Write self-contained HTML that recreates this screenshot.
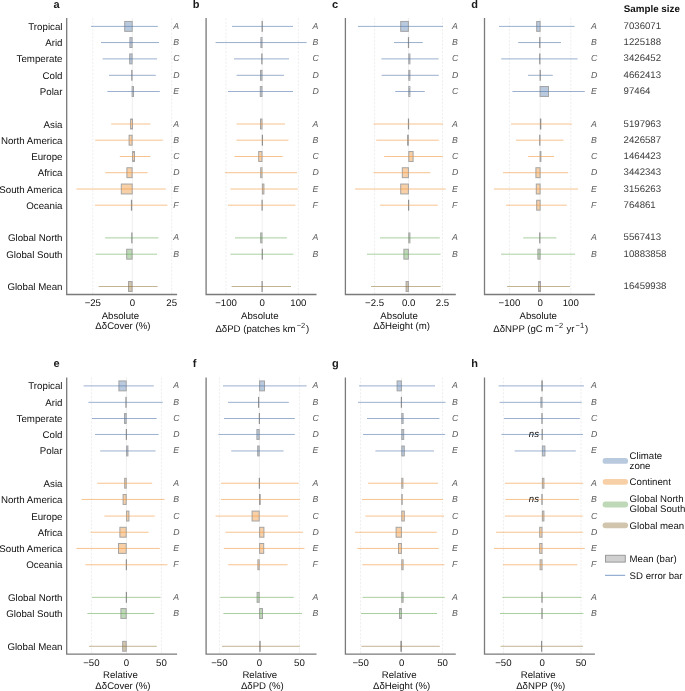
<!DOCTYPE html><html><head><meta charset="utf-8"><title>Figure</title><style>html,body{margin:0;padding:0;background:#fff;width:685px;height:691px;overflow:hidden}svg{display:block;will-change:transform}</style></head><body><svg width="685" height="691" viewBox="0 0 685 691" font-family='"Liberation Sans", sans-serif' text-rendering="geometricPrecision"><rect width="100%" height="100%" fill="#fff"/><line x1="92.8" y1="17.9" x2="92.8" y2="294.5" stroke="#efefef" stroke-width="1" stroke-dasharray="2.3,1.35"/><line x1="132.3" y1="17.9" x2="132.3" y2="294.5" stroke="#efefef" stroke-width="1"/><line x1="171.7" y1="17.9" x2="171.7" y2="294.5" stroke="#efefef" stroke-width="1" stroke-dasharray="2.3,1.35"/><rect x="124.7" y="21.45" width="7.5" height="9.9" fill="#b9c9de" stroke="#a4a4a4" stroke-width="1"/><line x1="91" y1="26.4" x2="157.8" y2="26.4" stroke="rgba(80,116,170,0.57)" stroke-width="1"/><rect x="129.9" y="37.6" width="2.2" height="9.9" fill="#b9c9de" stroke="#a4a4a4" stroke-width="1"/><line x1="101" y1="42.55" x2="159" y2="42.55" stroke="rgba(80,116,170,0.57)" stroke-width="1"/><rect x="129.7" y="53.95" width="2.4" height="9.9" fill="#b9c9de" stroke="#a4a4a4" stroke-width="1"/><line x1="102.6" y1="58.9" x2="157" y2="58.9" stroke="rgba(80,116,170,0.57)" stroke-width="1"/><rect x="131.8" y="70.35" width="0.2" height="9.9" fill="#b9c9de" stroke="#909090" stroke-width="1"/><line x1="109" y1="75.3" x2="155.8" y2="75.3" stroke="rgba(80,116,170,0.57)" stroke-width="1"/><rect x="132.1" y="86.55" width="1.4" height="9.9" fill="#b9c9de" stroke="#a4a4a4" stroke-width="1"/><line x1="107.4" y1="91.5" x2="159.8" y2="91.5" stroke="rgba(80,116,170,0.57)" stroke-width="1"/><rect x="130.6" y="119.05" width="1.9" height="9.9" fill="#f8d0a8" stroke="#a4a4a4" stroke-width="1"/><line x1="111.2" y1="124" x2="150.4" y2="124" stroke="rgba(240,148,55,0.56)" stroke-width="1"/><rect x="129.1" y="135.25" width="3" height="9.9" fill="#f8d0a8" stroke="#a4a4a4" stroke-width="1"/><line x1="95.2" y1="140.2" x2="162.8" y2="140.2" stroke="rgba(240,148,55,0.56)" stroke-width="1"/><rect x="132.6" y="151.55" width="1.9" height="9.9" fill="#f8d0a8" stroke="#a4a4a4" stroke-width="1"/><line x1="119.8" y1="156.5" x2="150.4" y2="156.5" stroke="rgba(240,148,55,0.56)" stroke-width="1"/><rect x="126.9" y="167.75" width="5.2" height="9.9" fill="#f8d0a8" stroke="#a4a4a4" stroke-width="1"/><line x1="105.2" y1="172.7" x2="147.6" y2="172.7" stroke="rgba(240,148,55,0.56)" stroke-width="1"/><rect x="121.3" y="184.05" width="10.9" height="9.9" fill="#f8d0a8" stroke="#a4a4a4" stroke-width="1"/><line x1="76.4" y1="189" x2="165.8" y2="189" stroke="rgba(240,148,55,0.56)" stroke-width="1"/><rect x="131.4" y="200.25" width="0.3" height="9.9" fill="#f8d0a8" stroke="#909090" stroke-width="1"/><line x1="95" y1="205.2" x2="167.4" y2="205.2" stroke="rgba(240,148,55,0.56)" stroke-width="1"/><rect x="131.8" y="232.95" width="0.2" height="9.9" fill="#bed8b8" stroke="#909090" stroke-width="1"/><line x1="105.2" y1="237.9" x2="158.4" y2="237.9" stroke="rgba(90,165,70,0.52)" stroke-width="1"/><rect x="126.7" y="249.25" width="5.4" height="9.9" fill="#bed8b8" stroke="#a4a4a4" stroke-width="1"/><line x1="95.6" y1="254.2" x2="157" y2="254.2" stroke="rgba(90,165,70,0.52)" stroke-width="1"/><rect x="128.5" y="281.55" width="3.6" height="9.9" fill="#d2c5ae" stroke="#a4a4a4" stroke-width="1"/><line x1="98.6" y1="286.5" x2="157.6" y2="286.5" stroke="rgba(135,105,40,0.5)" stroke-width="1"/><text transform="translate(173.2 28.9) scale(1 1)" font-size="8.75" fill="#606060" font-style="italic">A</text><text transform="translate(173.2 45.05) scale(1 1)" font-size="8.75" fill="#606060" font-style="italic">B</text><text transform="translate(173.2 61.4) scale(1 1)" font-size="8.75" fill="#606060" font-style="italic">C</text><text transform="translate(173.2 77.8) scale(1 1)" font-size="8.75" fill="#606060" font-style="italic">D</text><text transform="translate(173.2 94) scale(1 1)" font-size="8.75" fill="#606060" font-style="italic">E</text><text transform="translate(173.2 126.5) scale(1 1)" font-size="8.75" fill="#606060" font-style="italic">A</text><text transform="translate(173.2 142.7) scale(1 1)" font-size="8.75" fill="#606060" font-style="italic">B</text><text transform="translate(173.2 159) scale(1 1)" font-size="8.75" fill="#606060" font-style="italic">C</text><text transform="translate(173.2 175.2) scale(1 1)" font-size="8.75" fill="#606060" font-style="italic">D</text><text transform="translate(173.2 191.5) scale(1 1)" font-size="8.75" fill="#606060" font-style="italic">E</text><text transform="translate(173.2 207.7) scale(1 1)" font-size="8.75" fill="#606060" font-style="italic">F</text><text transform="translate(173.2 240.4) scale(1 1)" font-size="8.75" fill="#606060" font-style="italic">A</text><text transform="translate(173.2 256.7) scale(1 1)" font-size="8.75" fill="#606060" font-style="italic">B</text><path d="M66.7 17.9 V294.5 H177.1" fill="none" stroke="#7a7a7a" stroke-width="1.3"/><text transform="translate(92.8 306) scale(1 1)" font-size="9.65" text-anchor="middle" fill="#111111">−25</text><text transform="translate(132.3 306) scale(1 1)" font-size="9.65" text-anchor="middle" fill="#111111">0</text><text transform="translate(171.7 306) scale(1 1)" font-size="9.65" text-anchor="middle" fill="#111111">25</text><text transform="translate(120.4 318.7) scale(1 1)" font-size="9.65" text-anchor="middle" fill="#111111">Absolute</text><text transform="translate(122.9 329.2) scale(1 1)" font-size="9.65" text-anchor="middle" fill="#111111"><tspan>ΔδCover (%)</tspan></text><text transform="translate(53.4 7.7) scale(1 1)" font-size="11" fill="#1a1a1a" font-weight="bold">a</text><text transform="translate(62.5 29.9) scale(1 1)" font-size="9.72" text-anchor="end" fill="#111111">Tropical</text><text transform="translate(62.5 46.05) scale(1 1)" font-size="9.72" text-anchor="end" fill="#111111">Arid</text><text transform="translate(62.5 62.4) scale(1 1)" font-size="9.72" text-anchor="end" fill="#111111">Temperate</text><text transform="translate(62.5 78.8) scale(1 1)" font-size="9.72" text-anchor="end" fill="#111111">Cold</text><text transform="translate(62.5 95) scale(1 1)" font-size="9.72" text-anchor="end" fill="#111111">Polar</text><text transform="translate(62.5 127.5) scale(1 1)" font-size="9.72" text-anchor="end" fill="#111111">Asia</text><text transform="translate(62.5 143.7) scale(1 1)" font-size="9.72" text-anchor="end" fill="#111111">North America</text><text transform="translate(62.5 160) scale(1 1)" font-size="9.72" text-anchor="end" fill="#111111">Europe</text><text transform="translate(62.5 176.2) scale(1 1)" font-size="9.72" text-anchor="end" fill="#111111">Africa</text><text transform="translate(62.5 192.5) scale(1 1)" font-size="9.72" text-anchor="end" fill="#111111">South America</text><text transform="translate(62.5 208.7) scale(1 1)" font-size="9.72" text-anchor="end" fill="#111111">Oceania</text><text transform="translate(62.5 241.4) scale(1 1)" font-size="9.72" text-anchor="end" fill="#111111">Global North</text><text transform="translate(62.5 257.7) scale(1 1)" font-size="9.72" text-anchor="end" fill="#111111">Global South</text><text transform="translate(62.5 290) scale(1 1)" font-size="9.72" text-anchor="end" fill="#111111">Global Mean</text><line x1="226" y1="17.9" x2="226" y2="294.5" stroke="#efefef" stroke-width="1" stroke-dasharray="2.3,1.35"/><line x1="262.2" y1="17.9" x2="262.2" y2="294.5" stroke="#efefef" stroke-width="1"/><line x1="298.4" y1="17.9" x2="298.4" y2="294.5" stroke="#efefef" stroke-width="1" stroke-dasharray="2.3,1.35"/><rect x="262.1" y="21.45" width="0.2" height="9.9" fill="#b9c9de" stroke="#909090" stroke-width="1"/><line x1="232" y1="26.4" x2="293" y2="26.4" stroke="rgba(80,116,170,0.57)" stroke-width="1"/><rect x="260.9" y="37.6" width="1.1" height="9.9" fill="#b9c9de" stroke="#a4a4a4" stroke-width="1"/><line x1="215.6" y1="42.55" x2="306.6" y2="42.55" stroke="rgba(80,116,170,0.57)" stroke-width="1"/><rect x="261.8" y="53.95" width="0.2" height="9.9" fill="#b9c9de" stroke="#909090" stroke-width="1"/><line x1="234" y1="58.9" x2="289" y2="58.9" stroke="rgba(80,116,170,0.57)" stroke-width="1"/><rect x="260.5" y="70.35" width="1.5" height="9.9" fill="#b9c9de" stroke="#a4a4a4" stroke-width="1"/><line x1="236.6" y1="75.3" x2="284" y2="75.3" stroke="rgba(80,116,170,0.57)" stroke-width="1"/><rect x="260.3" y="86.55" width="1.7" height="9.9" fill="#b9c9de" stroke="#a4a4a4" stroke-width="1"/><line x1="228" y1="91.5" x2="293" y2="91.5" stroke="rgba(80,116,170,0.57)" stroke-width="1"/><rect x="260.5" y="119.05" width="1.5" height="9.9" fill="#f8d0a8" stroke="#a4a4a4" stroke-width="1"/><line x1="236.6" y1="124" x2="285" y2="124" stroke="rgba(240,148,55,0.56)" stroke-width="1"/><rect x="262.3" y="135.25" width="0.2" height="9.9" fill="#f8d0a8" stroke="#909090" stroke-width="1"/><line x1="236.4" y1="140.2" x2="288.4" y2="140.2" stroke="rgba(240,148,55,0.56)" stroke-width="1"/><rect x="258.7" y="151.55" width="3.3" height="9.9" fill="#f8d0a8" stroke="#a4a4a4" stroke-width="1"/><line x1="234.4" y1="156.5" x2="282.8" y2="156.5" stroke="rgba(240,148,55,0.56)" stroke-width="1"/><rect x="260.7" y="167.75" width="1.3" height="9.9" fill="#f8d0a8" stroke="#a4a4a4" stroke-width="1"/><line x1="225" y1="172.7" x2="297" y2="172.7" stroke="rgba(240,148,55,0.56)" stroke-width="1"/><rect x="262.4" y="184.05" width="1.5" height="9.9" fill="#f8d0a8" stroke="#a4a4a4" stroke-width="1"/><line x1="230.4" y1="189" x2="297.8" y2="189" stroke="rgba(240,148,55,0.56)" stroke-width="1"/><rect x="262" y="200.25" width="0.2" height="9.9" fill="#f8d0a8" stroke="#909090" stroke-width="1"/><line x1="228" y1="205.2" x2="295.4" y2="205.2" stroke="rgba(240,148,55,0.56)" stroke-width="1"/><rect x="260.7" y="232.95" width="1.3" height="9.9" fill="#bed8b8" stroke="#a4a4a4" stroke-width="1"/><line x1="235" y1="237.9" x2="286.8" y2="237.9" stroke="rgba(90,165,70,0.52)" stroke-width="1"/><rect x="262.2" y="249.25" width="0.2" height="9.9" fill="#bed8b8" stroke="#909090" stroke-width="1"/><line x1="230.4" y1="254.2" x2="293.4" y2="254.2" stroke="rgba(90,165,70,0.52)" stroke-width="1"/><rect x="262" y="281.55" width="0.2" height="9.9" fill="#d2c5ae" stroke="#909090" stroke-width="1"/><line x1="231.6" y1="286.5" x2="291" y2="286.5" stroke="rgba(135,105,40,0.5)" stroke-width="1"/><text transform="translate(312.6 28.9) scale(1 1)" font-size="8.75" fill="#606060" font-style="italic">A</text><text transform="translate(312.6 45.05) scale(1 1)" font-size="8.75" fill="#606060" font-style="italic">B</text><text transform="translate(312.6 61.4) scale(1 1)" font-size="8.75" fill="#606060" font-style="italic">C</text><text transform="translate(312.6 77.8) scale(1 1)" font-size="8.75" fill="#606060" font-style="italic">D</text><text transform="translate(312.6 94) scale(1 1)" font-size="8.75" fill="#606060" font-style="italic">D</text><text transform="translate(312.6 126.5) scale(1 1)" font-size="8.75" fill="#606060" font-style="italic">A</text><text transform="translate(312.6 142.7) scale(1 1)" font-size="8.75" fill="#606060" font-style="italic">B</text><text transform="translate(312.6 159) scale(1 1)" font-size="8.75" fill="#606060" font-style="italic">C</text><text transform="translate(312.6 175.2) scale(1 1)" font-size="8.75" fill="#606060" font-style="italic">D</text><text transform="translate(312.6 191.5) scale(1 1)" font-size="8.75" fill="#606060" font-style="italic">E</text><text transform="translate(312.6 207.7) scale(1 1)" font-size="8.75" fill="#606060" font-style="italic">F</text><text transform="translate(312.6 240.4) scale(1 1)" font-size="8.75" fill="#606060" font-style="italic">A</text><text transform="translate(312.6 256.7) scale(1 1)" font-size="8.75" fill="#606060" font-style="italic">B</text><path d="M206.1 17.9 V294.5 H316.5" fill="none" stroke="#7a7a7a" stroke-width="1.3"/><text transform="translate(226 306) scale(1 1)" font-size="9.65" text-anchor="middle" fill="#111111">−100</text><text transform="translate(262.2 306) scale(1 1)" font-size="9.65" text-anchor="middle" fill="#111111">0</text><text transform="translate(298.4 306) scale(1 1)" font-size="9.65" text-anchor="middle" fill="#111111">100</text><text transform="translate(259.8 318.7) scale(1 1)" font-size="9.65" text-anchor="middle" fill="#111111">Absolute</text><text transform="translate(262.3 331.7) scale(1 1)" font-size="9.65" text-anchor="middle" fill="#111111"><tspan>ΔδPD (patches km</tspan><tspan font-size="7.53" dx="1" dy="-3.7">−2</tspan><tspan dx="0.8" dy="3.7">)</tspan></text><text transform="translate(192.8 7.7) scale(1 1)" font-size="11" fill="#1a1a1a" font-weight="bold">b</text><line x1="374.6" y1="17.9" x2="374.6" y2="294.5" stroke="#efefef" stroke-width="1" stroke-dasharray="2.3,1.35"/><line x1="408.6" y1="17.9" x2="408.6" y2="294.5" stroke="#efefef" stroke-width="1"/><line x1="442.5" y1="17.9" x2="442.5" y2="294.5" stroke="#efefef" stroke-width="1" stroke-dasharray="2.3,1.35"/><rect x="400.7" y="21.45" width="7.7" height="9.9" fill="#b9c9de" stroke="#a4a4a4" stroke-width="1"/><line x1="358" y1="26.4" x2="443" y2="26.4" stroke="rgba(80,116,170,0.57)" stroke-width="1"/><rect x="408.4" y="37.6" width="0.2" height="9.9" fill="#b9c9de" stroke="#909090" stroke-width="1"/><line x1="394" y1="42.55" x2="422.8" y2="42.55" stroke="rgba(80,116,170,0.57)" stroke-width="1"/><rect x="408.8" y="53.95" width="1.1" height="9.9" fill="#b9c9de" stroke="#a4a4a4" stroke-width="1"/><line x1="381.4" y1="58.9" x2="438.6" y2="58.9" stroke="rgba(80,116,170,0.57)" stroke-width="1"/><rect x="408.8" y="70.35" width="1.1" height="9.9" fill="#b9c9de" stroke="#a4a4a4" stroke-width="1"/><line x1="381.6" y1="75.3" x2="438.8" y2="75.3" stroke="rgba(80,116,170,0.57)" stroke-width="1"/><rect x="408.8" y="86.55" width="1.1" height="9.9" fill="#b9c9de" stroke="#a4a4a4" stroke-width="1"/><line x1="395.2" y1="91.5" x2="424.8" y2="91.5" stroke="rgba(80,116,170,0.57)" stroke-width="1"/><rect x="408.4" y="119.05" width="0.2" height="9.9" fill="#f8d0a8" stroke="#909090" stroke-width="1"/><line x1="373.6" y1="124" x2="443" y2="124" stroke="rgba(240,148,55,0.56)" stroke-width="1"/><rect x="407.5" y="135.25" width="0.9" height="9.9" fill="#f8d0a8" stroke="#a4a4a4" stroke-width="1"/><line x1="376.2" y1="140.2" x2="438.8" y2="140.2" stroke="rgba(240,148,55,0.56)" stroke-width="1"/><rect x="408.8" y="151.55" width="4.3" height="9.9" fill="#f8d0a8" stroke="#a4a4a4" stroke-width="1"/><line x1="384.2" y1="156.5" x2="442.8" y2="156.5" stroke="rgba(240,148,55,0.56)" stroke-width="1"/><rect x="402.3" y="167.75" width="6.1" height="9.9" fill="#f8d0a8" stroke="#a4a4a4" stroke-width="1"/><line x1="373.6" y1="172.7" x2="430.4" y2="172.7" stroke="rgba(240,148,55,0.56)" stroke-width="1"/><rect x="400.7" y="184.05" width="7.7" height="9.9" fill="#f8d0a8" stroke="#a4a4a4" stroke-width="1"/><line x1="355" y1="189" x2="445.8" y2="189" stroke="rgba(240,148,55,0.56)" stroke-width="1"/><rect x="408.5" y="200.25" width="0.2" height="9.9" fill="#f8d0a8" stroke="#909090" stroke-width="1"/><line x1="380" y1="205.2" x2="437.8" y2="205.2" stroke="rgba(240,148,55,0.56)" stroke-width="1"/><rect x="408.8" y="232.95" width="1.1" height="9.9" fill="#bed8b8" stroke="#a4a4a4" stroke-width="1"/><line x1="380" y1="237.9" x2="439.8" y2="237.9" stroke="rgba(90,165,70,0.52)" stroke-width="1"/><rect x="403.9" y="249.25" width="4.5" height="9.9" fill="#bed8b8" stroke="#a4a4a4" stroke-width="1"/><line x1="367" y1="254.2" x2="440.6" y2="254.2" stroke="rgba(90,165,70,0.52)" stroke-width="1"/><rect x="406.1" y="281.55" width="2.3" height="9.9" fill="#d2c5ae" stroke="#a4a4a4" stroke-width="1"/><line x1="371" y1="286.5" x2="440.6" y2="286.5" stroke="rgba(135,105,40,0.5)" stroke-width="1"/><text transform="translate(451.9 28.9) scale(1 1)" font-size="8.75" fill="#606060" font-style="italic">A</text><text transform="translate(451.9 45.05) scale(1 1)" font-size="8.75" fill="#606060" font-style="italic">B</text><text transform="translate(451.9 61.4) scale(1 1)" font-size="8.75" fill="#606060" font-style="italic">C</text><text transform="translate(451.9 77.8) scale(1 1)" font-size="8.75" fill="#606060" font-style="italic">D</text><text transform="translate(451.9 94) scale(1 1)" font-size="8.75" fill="#606060" font-style="italic">C</text><text transform="translate(451.9 126.5) scale(1 1)" font-size="8.75" fill="#606060" font-style="italic">A</text><text transform="translate(451.9 142.7) scale(1 1)" font-size="8.75" fill="#606060" font-style="italic">B</text><text transform="translate(451.9 159) scale(1 1)" font-size="8.75" fill="#606060" font-style="italic">C</text><text transform="translate(451.9 175.2) scale(1 1)" font-size="8.75" fill="#606060" font-style="italic">D</text><text transform="translate(451.9 191.5) scale(1 1)" font-size="8.75" fill="#606060" font-style="italic">E</text><text transform="translate(451.9 207.7) scale(1 1)" font-size="8.75" fill="#606060" font-style="italic">F</text><text transform="translate(451.9 240.4) scale(1 1)" font-size="8.75" fill="#606060" font-style="italic">A</text><text transform="translate(451.9 256.7) scale(1 1)" font-size="8.75" fill="#606060" font-style="italic">B</text><path d="M345.4 17.9 V294.5 H455.8" fill="none" stroke="#7a7a7a" stroke-width="1.3"/><text transform="translate(374.6 306) scale(1 1)" font-size="9.65" text-anchor="middle" fill="#111111">−2.5</text><text transform="translate(408.6 306) scale(1 1)" font-size="9.65" text-anchor="middle" fill="#111111">0.0</text><text transform="translate(442.5 306) scale(1 1)" font-size="9.65" text-anchor="middle" fill="#111111">2.5</text><text transform="translate(399.1 318.7) scale(1 1)" font-size="9.65" text-anchor="middle" fill="#111111">Absolute</text><text transform="translate(401.6 329.2) scale(1 1)" font-size="9.65" text-anchor="middle" fill="#111111"><tspan>ΔδHeight (m)</tspan></text><text transform="translate(332.1 7.7) scale(1 1)" font-size="11" fill="#1a1a1a" font-weight="bold">c</text><line x1="509.4" y1="17.9" x2="509.4" y2="294.5" stroke="#efefef" stroke-width="1" stroke-dasharray="2.3,1.35"/><line x1="540.1" y1="17.9" x2="540.1" y2="294.5" stroke="#efefef" stroke-width="1"/><line x1="570.8" y1="17.9" x2="570.8" y2="294.5" stroke="#efefef" stroke-width="1" stroke-dasharray="2.3,1.35"/><rect x="536.7" y="21.45" width="3.4" height="9.9" fill="#b9c9de" stroke="#a4a4a4" stroke-width="1"/><line x1="499" y1="26.4" x2="574.6" y2="26.4" stroke="rgba(80,116,170,0.57)" stroke-width="1"/><rect x="539.7" y="37.6" width="0.2" height="9.9" fill="#b9c9de" stroke="#909090" stroke-width="1"/><line x1="518.2" y1="42.55" x2="561" y2="42.55" stroke="rgba(80,116,170,0.57)" stroke-width="1"/><rect x="539.7" y="53.95" width="0.2" height="9.9" fill="#b9c9de" stroke="#909090" stroke-width="1"/><line x1="501.2" y1="58.9" x2="577.6" y2="58.9" stroke="rgba(80,116,170,0.57)" stroke-width="1"/><rect x="540.1" y="70.35" width="0.2" height="9.9" fill="#b9c9de" stroke="#909090" stroke-width="1"/><line x1="528" y1="75.3" x2="552.8" y2="75.3" stroke="rgba(80,116,170,0.57)" stroke-width="1"/><rect x="540.1" y="86.55" width="8.4" height="9.9" fill="#b9c9de" stroke="#a4a4a4" stroke-width="1"/><line x1="512.4" y1="91.5" x2="584.8" y2="91.5" stroke="rgba(80,116,170,0.57)" stroke-width="1"/><rect x="540.4" y="119.05" width="0.4" height="9.9" fill="#f8d0a8" stroke="#909090" stroke-width="1"/><line x1="511" y1="124" x2="571.8" y2="124" stroke="rgba(240,148,55,0.56)" stroke-width="1"/><rect x="539.7" y="135.25" width="0.2" height="9.9" fill="#f8d0a8" stroke="#909090" stroke-width="1"/><line x1="516" y1="140.2" x2="563.6" y2="140.2" stroke="rgba(240,148,55,0.56)" stroke-width="1"/><rect x="540.1" y="151.55" width="0.8" height="9.9" fill="#f8d0a8" stroke="#a4a4a4" stroke-width="1"/><line x1="528.2" y1="156.5" x2="554" y2="156.5" stroke="rgba(240,148,55,0.56)" stroke-width="1"/><rect x="535.9" y="167.75" width="4.2" height="9.9" fill="#f8d0a8" stroke="#a4a4a4" stroke-width="1"/><line x1="503" y1="172.7" x2="568.2" y2="172.7" stroke="rgba(240,148,55,0.56)" stroke-width="1"/><rect x="536.3" y="184.05" width="3.8" height="9.9" fill="#f8d0a8" stroke="#a4a4a4" stroke-width="1"/><line x1="494" y1="189" x2="578" y2="189" stroke="rgba(240,148,55,0.56)" stroke-width="1"/><rect x="536.7" y="200.25" width="3.4" height="9.9" fill="#f8d0a8" stroke="#a4a4a4" stroke-width="1"/><line x1="506" y1="205.2" x2="566.8" y2="205.2" stroke="rgba(240,148,55,0.56)" stroke-width="1"/><rect x="539.7" y="232.95" width="0.2" height="9.9" fill="#bed8b8" stroke="#909090" stroke-width="1"/><line x1="523.2" y1="237.9" x2="556.4" y2="237.9" stroke="rgba(90,165,70,0.52)" stroke-width="1"/><rect x="537.9" y="249.25" width="2.2" height="9.9" fill="#bed8b8" stroke="#a4a4a4" stroke-width="1"/><line x1="501" y1="254.2" x2="575" y2="254.2" stroke="rgba(90,165,70,0.52)" stroke-width="1"/><rect x="538.5" y="281.55" width="2" height="9.9" fill="#d2c5ae" stroke="#a4a4a4" stroke-width="1"/><line x1="507" y1="286.5" x2="570" y2="286.5" stroke="rgba(135,105,40,0.5)" stroke-width="1"/><text transform="translate(591 28.9) scale(1 1)" font-size="8.75" fill="#606060" font-style="italic">A</text><text transform="translate(591 45.05) scale(1 1)" font-size="8.75" fill="#606060" font-style="italic">B</text><text transform="translate(591 61.4) scale(1 1)" font-size="8.75" fill="#606060" font-style="italic">C</text><text transform="translate(591 77.8) scale(1 1)" font-size="8.75" fill="#606060" font-style="italic">D</text><text transform="translate(591 94) scale(1 1)" font-size="8.75" fill="#606060" font-style="italic">E</text><text transform="translate(591 126.5) scale(1 1)" font-size="8.75" fill="#606060" font-style="italic">A</text><text transform="translate(591 142.7) scale(1 1)" font-size="8.75" fill="#606060" font-style="italic">B</text><text transform="translate(591 159) scale(1 1)" font-size="8.75" fill="#606060" font-style="italic">C</text><text transform="translate(591 175.2) scale(1 1)" font-size="8.75" fill="#606060" font-style="italic">D</text><text transform="translate(591 191.5) scale(1 1)" font-size="8.75" fill="#606060" font-style="italic">E</text><text transform="translate(591 207.7) scale(1 1)" font-size="8.75" fill="#606060" font-style="italic">F</text><text transform="translate(591 240.4) scale(1 1)" font-size="8.75" fill="#606060" font-style="italic">A</text><text transform="translate(591 256.7) scale(1 1)" font-size="8.75" fill="#606060" font-style="italic">B</text><path d="M484.5 17.9 V294.5 H594.9" fill="none" stroke="#7a7a7a" stroke-width="1.3"/><text transform="translate(509.4 306) scale(1 1)" font-size="9.65" text-anchor="middle" fill="#111111">−100</text><text transform="translate(540.1 306) scale(1 1)" font-size="9.65" text-anchor="middle" fill="#111111">0</text><text transform="translate(570.8 306) scale(1 1)" font-size="9.65" text-anchor="middle" fill="#111111">100</text><text transform="translate(538.2 318.7) scale(1 1)" font-size="9.65" text-anchor="middle" fill="#111111">Absolute</text><text transform="translate(540.7 331.7) scale(1 1)" font-size="9.65" text-anchor="middle" fill="#111111"><tspan>ΔδNPP (gC m</tspan><tspan font-size="7.53" dx="1" dy="-3.7">−2</tspan><tspan dx="0.8" dy="3.7"> yr</tspan><tspan font-size="7.53" dx="1" dy="-3.7">−1</tspan><tspan dx="0.8" dy="3.7">)</tspan></text><text transform="translate(471.2 7.7) scale(1 1)" font-size="11" fill="#1a1a1a" font-weight="bold">d</text><line x1="91.4" y1="377.45" x2="91.4" y2="654.05" stroke="#efefef" stroke-width="1" stroke-dasharray="2.3,1.35"/><line x1="126.4" y1="377.45" x2="126.4" y2="654.05" stroke="#efefef" stroke-width="1"/><line x1="161.4" y1="377.45" x2="161.4" y2="654.05" stroke="#efefef" stroke-width="1" stroke-dasharray="2.3,1.35"/><rect x="118.9" y="380.95" width="7.3" height="9.9" fill="#b9c9de" stroke="#a4a4a4" stroke-width="1"/><line x1="83.6" y1="385.9" x2="153.8" y2="385.9" stroke="rgba(80,116,170,0.57)" stroke-width="1"/><rect x="125.9" y="397.38" width="0.2" height="9.9" fill="#b9c9de" stroke="#909090" stroke-width="1"/><line x1="88.4" y1="402.33" x2="162.8" y2="402.33" stroke="rgba(80,116,170,0.57)" stroke-width="1"/><rect x="124.5" y="413.55" width="1.7" height="9.9" fill="#b9c9de" stroke="#a4a4a4" stroke-width="1"/><line x1="92" y1="418.5" x2="156.6" y2="418.5" stroke="rgba(80,116,170,0.57)" stroke-width="1"/><rect x="126.3" y="429.51" width="0.2" height="9.9" fill="#b9c9de" stroke="#909090" stroke-width="1"/><line x1="95" y1="434.46" x2="158.6" y2="434.46" stroke="rgba(80,116,170,0.57)" stroke-width="1"/><rect x="126.6" y="446.01" width="1.3" height="9.9" fill="#b9c9de" stroke="#a4a4a4" stroke-width="1"/><line x1="100.2" y1="450.96" x2="155.6" y2="450.96" stroke="rgba(80,116,170,0.57)" stroke-width="1"/><rect x="124.7" y="478.31" width="1.5" height="9.9" fill="#f8d0a8" stroke="#a4a4a4" stroke-width="1"/><line x1="97.2" y1="483.26" x2="152.2" y2="483.26" stroke="rgba(240,148,55,0.56)" stroke-width="1"/><rect x="123.1" y="494.5" width="3.1" height="9.9" fill="#f8d0a8" stroke="#a4a4a4" stroke-width="1"/><line x1="81.6" y1="499.45" x2="164.6" y2="499.45" stroke="rgba(240,148,55,0.56)" stroke-width="1"/><rect x="126.6" y="511.1" width="2.3" height="9.9" fill="#f8d0a8" stroke="#a4a4a4" stroke-width="1"/><line x1="104.4" y1="516.05" x2="154.8" y2="516.05" stroke="rgba(240,148,55,0.56)" stroke-width="1"/><rect x="119.9" y="527.29" width="6.3" height="9.9" fill="#f8d0a8" stroke="#a4a4a4" stroke-width="1"/><line x1="90.6" y1="532.24" x2="148.6" y2="532.24" stroke="rgba(240,148,55,0.56)" stroke-width="1"/><rect x="118.5" y="543.48" width="7.7" height="9.9" fill="#f8d0a8" stroke="#a4a4a4" stroke-width="1"/><line x1="76.4" y1="548.43" x2="159.8" y2="548.43" stroke="rgba(240,148,55,0.56)" stroke-width="1"/><rect x="126.3" y="559.81" width="0.2" height="9.9" fill="#f8d0a8" stroke="#909090" stroke-width="1"/><line x1="85.4" y1="564.76" x2="167.4" y2="564.76" stroke="rgba(240,148,55,0.56)" stroke-width="1"/><rect x="126.3" y="592.4" width="0.2" height="9.9" fill="#bed8b8" stroke="#909090" stroke-width="1"/><line x1="92" y1="597.35" x2="160.6" y2="597.35" stroke="rgba(90,165,70,0.52)" stroke-width="1"/><rect x="120.9" y="608.55" width="5.3" height="9.9" fill="#bed8b8" stroke="#a4a4a4" stroke-width="1"/><line x1="87.4" y1="613.5" x2="154.2" y2="613.5" stroke="rgba(90,165,70,0.52)" stroke-width="1"/><rect x="122.7" y="641.35" width="3.5" height="9.9" fill="#d2c5ae" stroke="#a4a4a4" stroke-width="1"/><line x1="89" y1="646.3" x2="156.8" y2="646.3" stroke="rgba(135,105,40,0.5)" stroke-width="1"/><text transform="translate(173.2 388.4) scale(1 1)" font-size="8.75" fill="#606060" font-style="italic">A</text><text transform="translate(173.2 404.83) scale(1 1)" font-size="8.75" fill="#606060" font-style="italic">B</text><text transform="translate(173.2 421) scale(1 1)" font-size="8.75" fill="#606060" font-style="italic">C</text><text transform="translate(173.2 436.96) scale(1 1)" font-size="8.75" fill="#606060" font-style="italic">D</text><text transform="translate(173.2 453.46) scale(1 1)" font-size="8.75" fill="#606060" font-style="italic">E</text><text transform="translate(173.2 485.76) scale(1 1)" font-size="8.75" fill="#606060" font-style="italic">A</text><text transform="translate(173.2 501.95) scale(1 1)" font-size="8.75" fill="#606060" font-style="italic">B</text><text transform="translate(173.2 518.55) scale(1 1)" font-size="8.75" fill="#606060" font-style="italic">C</text><text transform="translate(173.2 534.74) scale(1 1)" font-size="8.75" fill="#606060" font-style="italic">D</text><text transform="translate(173.2 550.93) scale(1 1)" font-size="8.75" fill="#606060" font-style="italic">E</text><text transform="translate(173.2 567.26) scale(1 1)" font-size="8.75" fill="#606060" font-style="italic">F</text><text transform="translate(173.2 599.85) scale(1 1)" font-size="8.75" fill="#606060" font-style="italic">A</text><text transform="translate(173.2 616) scale(1 1)" font-size="8.75" fill="#606060" font-style="italic">B</text><path d="M66.7 377.45 V654.05 H177.1" fill="none" stroke="#7a7a7a" stroke-width="1.3"/><text transform="translate(91.4 665.55) scale(1 1)" font-size="9.65" text-anchor="middle" fill="#111111">−50</text><text transform="translate(126.4 665.55) scale(1 1)" font-size="9.65" text-anchor="middle" fill="#111111">0</text><text transform="translate(161.4 665.55) scale(1 1)" font-size="9.65" text-anchor="middle" fill="#111111">50</text><text transform="translate(120.4 678.25) scale(1 1)" font-size="9.65" text-anchor="middle" fill="#111111">Relative</text><text transform="translate(122.9 688.75) scale(1 1)" font-size="9.65" text-anchor="middle" fill="#111111"><tspan>ΔδCover (%)</tspan></text><text transform="translate(53.4 367.25) scale(1 1)" font-size="11" fill="#1a1a1a" font-weight="bold">e</text><text transform="translate(62.5 389.4) scale(1 1)" font-size="9.72" text-anchor="end" fill="#111111">Tropical</text><text transform="translate(62.5 405.83) scale(1 1)" font-size="9.72" text-anchor="end" fill="#111111">Arid</text><text transform="translate(62.5 422) scale(1 1)" font-size="9.72" text-anchor="end" fill="#111111">Temperate</text><text transform="translate(62.5 437.96) scale(1 1)" font-size="9.72" text-anchor="end" fill="#111111">Cold</text><text transform="translate(62.5 454.46) scale(1 1)" font-size="9.72" text-anchor="end" fill="#111111">Polar</text><text transform="translate(62.5 486.76) scale(1 1)" font-size="9.72" text-anchor="end" fill="#111111">Asia</text><text transform="translate(62.5 502.95) scale(1 1)" font-size="9.72" text-anchor="end" fill="#111111">North America</text><text transform="translate(62.5 519.55) scale(1 1)" font-size="9.72" text-anchor="end" fill="#111111">Europe</text><text transform="translate(62.5 535.74) scale(1 1)" font-size="9.72" text-anchor="end" fill="#111111">Africa</text><text transform="translate(62.5 551.93) scale(1 1)" font-size="9.72" text-anchor="end" fill="#111111">South America</text><text transform="translate(62.5 568.26) scale(1 1)" font-size="9.72" text-anchor="end" fill="#111111">Oceania</text><text transform="translate(62.5 600.85) scale(1 1)" font-size="9.72" text-anchor="end" fill="#111111">Global North</text><text transform="translate(62.5 617) scale(1 1)" font-size="9.72" text-anchor="end" fill="#111111">Global South</text><text transform="translate(62.5 649.8) scale(1 1)" font-size="9.72" text-anchor="end" fill="#111111">Global Mean</text><line x1="219.4" y1="377.45" x2="219.4" y2="654.05" stroke="#efefef" stroke-width="1" stroke-dasharray="2.3,1.35"/><line x1="259.4" y1="377.45" x2="259.4" y2="654.05" stroke="#efefef" stroke-width="1"/><line x1="299.4" y1="377.45" x2="299.4" y2="654.05" stroke="#efefef" stroke-width="1" stroke-dasharray="2.3,1.35"/><rect x="259.6" y="380.95" width="4.9" height="9.9" fill="#b9c9de" stroke="#a4a4a4" stroke-width="1"/><line x1="223" y1="385.9" x2="306.6" y2="385.9" stroke="rgba(80,116,170,0.57)" stroke-width="1"/><rect x="258.5" y="397.38" width="0.2" height="9.9" fill="#b9c9de" stroke="#909090" stroke-width="1"/><line x1="228" y1="402.33" x2="288.8" y2="402.33" stroke="rgba(80,116,170,0.57)" stroke-width="1"/><rect x="259.3" y="413.55" width="0.2" height="9.9" fill="#b9c9de" stroke="#909090" stroke-width="1"/><line x1="224" y1="418.5" x2="294.8" y2="418.5" stroke="rgba(80,116,170,0.57)" stroke-width="1"/><rect x="256.9" y="429.51" width="2.3" height="9.9" fill="#b9c9de" stroke="#a4a4a4" stroke-width="1"/><line x1="218.4" y1="434.46" x2="294.8" y2="434.46" stroke="rgba(80,116,170,0.57)" stroke-width="1"/><rect x="257.7" y="446.01" width="1.5" height="9.9" fill="#b9c9de" stroke="#a4a4a4" stroke-width="1"/><line x1="231.2" y1="450.96" x2="283.6" y2="450.96" stroke="rgba(80,116,170,0.57)" stroke-width="1"/><rect x="259.3" y="478.31" width="0.2" height="9.9" fill="#f8d0a8" stroke="#909090" stroke-width="1"/><line x1="221" y1="483.26" x2="298.6" y2="483.26" stroke="rgba(240,148,55,0.56)" stroke-width="1"/><rect x="259.6" y="494.5" width="0.5" height="9.9" fill="#f8d0a8" stroke="#909090" stroke-width="1"/><line x1="221" y1="499.45" x2="299.8" y2="499.45" stroke="rgba(240,148,55,0.56)" stroke-width="1"/><rect x="252.1" y="511.1" width="7.1" height="9.9" fill="#f8d0a8" stroke="#a4a4a4" stroke-width="1"/><line x1="215.6" y1="516.05" x2="288.2" y2="516.05" stroke="rgba(240,148,55,0.56)" stroke-width="1"/><rect x="259.6" y="527.29" width="4.3" height="9.9" fill="#f8d0a8" stroke="#a4a4a4" stroke-width="1"/><line x1="225.4" y1="532.24" x2="303" y2="532.24" stroke="rgba(240,148,55,0.56)" stroke-width="1"/><rect x="259.6" y="543.48" width="4.1" height="9.9" fill="#f8d0a8" stroke="#a4a4a4" stroke-width="1"/><line x1="223.8" y1="548.43" x2="304.4" y2="548.43" stroke="rgba(240,148,55,0.56)" stroke-width="1"/><rect x="257.9" y="559.81" width="1.3" height="9.9" fill="#f8d0a8" stroke="#a4a4a4" stroke-width="1"/><line x1="228.2" y1="564.76" x2="287.6" y2="564.76" stroke="rgba(240,148,55,0.56)" stroke-width="1"/><rect x="257.1" y="592.4" width="2.1" height="9.9" fill="#bed8b8" stroke="#a4a4a4" stroke-width="1"/><line x1="220.2" y1="597.35" x2="293.8" y2="597.35" stroke="rgba(90,165,70,0.52)" stroke-width="1"/><rect x="259.6" y="608.55" width="2.9" height="9.9" fill="#bed8b8" stroke="#a4a4a4" stroke-width="1"/><line x1="223.4" y1="613.5" x2="302" y2="613.5" stroke="rgba(90,165,70,0.52)" stroke-width="1"/><rect x="259.6" y="641.35" width="0.7" height="9.9" fill="#d2c5ae" stroke="#a4a4a4" stroke-width="1"/><line x1="222" y1="646.3" x2="299.8" y2="646.3" stroke="rgba(135,105,40,0.5)" stroke-width="1"/><text transform="translate(312.6 388.4) scale(1 1)" font-size="8.75" fill="#606060" font-style="italic">A</text><text transform="translate(312.6 404.83) scale(1 1)" font-size="8.75" fill="#606060" font-style="italic">B</text><text transform="translate(312.6 421) scale(1 1)" font-size="8.75" fill="#606060" font-style="italic">C</text><text transform="translate(312.6 436.96) scale(1 1)" font-size="8.75" fill="#606060" font-style="italic">D</text><text transform="translate(312.6 453.46) scale(1 1)" font-size="8.75" fill="#606060" font-style="italic">E</text><text transform="translate(312.6 485.76) scale(1 1)" font-size="8.75" fill="#606060" font-style="italic">A</text><text transform="translate(312.6 501.95) scale(1 1)" font-size="8.75" fill="#606060" font-style="italic">B</text><text transform="translate(312.6 518.55) scale(1 1)" font-size="8.75" fill="#606060" font-style="italic">C</text><text transform="translate(312.6 534.74) scale(1 1)" font-size="8.75" fill="#606060" font-style="italic">D</text><text transform="translate(312.6 550.93) scale(1 1)" font-size="8.75" fill="#606060" font-style="italic">E</text><text transform="translate(312.6 567.26) scale(1 1)" font-size="8.75" fill="#606060" font-style="italic">F</text><text transform="translate(312.6 599.85) scale(1 1)" font-size="8.75" fill="#606060" font-style="italic">A</text><text transform="translate(312.6 616) scale(1 1)" font-size="8.75" fill="#606060" font-style="italic">B</text><path d="M206.1 377.45 V654.05 H316.5" fill="none" stroke="#7a7a7a" stroke-width="1.3"/><text transform="translate(219.4 665.55) scale(1 1)" font-size="9.65" text-anchor="middle" fill="#111111">−50</text><text transform="translate(259.4 665.55) scale(1 1)" font-size="9.65" text-anchor="middle" fill="#111111">0</text><text transform="translate(299.4 665.55) scale(1 1)" font-size="9.65" text-anchor="middle" fill="#111111">50</text><text transform="translate(259.8 678.25) scale(1 1)" font-size="9.65" text-anchor="middle" fill="#111111">Relative</text><text transform="translate(262.3 688.75) scale(1 1)" font-size="9.65" text-anchor="middle" fill="#111111"><tspan>ΔδPD (%)</tspan></text><text transform="translate(192.8 367.25) scale(1 1)" font-size="11" fill="#1a1a1a" font-weight="bold">f</text><line x1="360.6" y1="377.45" x2="360.6" y2="654.05" stroke="#efefef" stroke-width="1" stroke-dasharray="2.3,1.35"/><line x1="401.6" y1="377.45" x2="401.6" y2="654.05" stroke="#efefef" stroke-width="1"/><line x1="442.6" y1="377.45" x2="442.6" y2="654.05" stroke="#efefef" stroke-width="1" stroke-dasharray="2.3,1.35"/><rect x="397.1" y="380.95" width="4.3" height="9.9" fill="#b9c9de" stroke="#a4a4a4" stroke-width="1"/><line x1="359" y1="385.9" x2="435" y2="385.9" stroke="rgba(80,116,170,0.57)" stroke-width="1"/><rect x="401.3" y="397.38" width="0.2" height="9.9" fill="#b9c9de" stroke="#909090" stroke-width="1"/><line x1="358" y1="402.33" x2="445.6" y2="402.33" stroke="rgba(80,116,170,0.57)" stroke-width="1"/><rect x="401.8" y="413.55" width="1.3" height="9.9" fill="#b9c9de" stroke="#a4a4a4" stroke-width="1"/><line x1="367" y1="418.5" x2="439.4" y2="418.5" stroke="rgba(80,116,170,0.57)" stroke-width="1"/><rect x="401.8" y="429.51" width="1.9" height="9.9" fill="#b9c9de" stroke="#a4a4a4" stroke-width="1"/><line x1="363" y1="434.46" x2="445.2" y2="434.46" stroke="rgba(80,116,170,0.57)" stroke-width="1"/><rect x="401.8" y="446.01" width="2.5" height="9.9" fill="#b9c9de" stroke="#a4a4a4" stroke-width="1"/><line x1="375.4" y1="450.96" x2="434" y2="450.96" stroke="rgba(80,116,170,0.57)" stroke-width="1"/><rect x="401.8" y="478.31" width="1.1" height="9.9" fill="#f8d0a8" stroke="#a4a4a4" stroke-width="1"/><line x1="368" y1="483.26" x2="438" y2="483.26" stroke="rgba(240,148,55,0.56)" stroke-width="1"/><rect x="401.9" y="494.5" width="0.2" height="9.9" fill="#f8d0a8" stroke="#909090" stroke-width="1"/><line x1="362" y1="499.45" x2="443" y2="499.45" stroke="rgba(240,148,55,0.56)" stroke-width="1"/><rect x="401.8" y="511.1" width="2.5" height="9.9" fill="#f8d0a8" stroke="#a4a4a4" stroke-width="1"/><line x1="365.4" y1="516.05" x2="444" y2="516.05" stroke="rgba(240,148,55,0.56)" stroke-width="1"/><rect x="396.1" y="527.29" width="5.3" height="9.9" fill="#f8d0a8" stroke="#a4a4a4" stroke-width="1"/><line x1="355" y1="532.24" x2="436.8" y2="532.24" stroke="rgba(240,148,55,0.56)" stroke-width="1"/><rect x="398.5" y="543.48" width="2.9" height="9.9" fill="#f8d0a8" stroke="#a4a4a4" stroke-width="1"/><line x1="357.2" y1="548.43" x2="438.8" y2="548.43" stroke="rgba(240,148,55,0.56)" stroke-width="1"/><rect x="401.8" y="559.81" width="1.3" height="9.9" fill="#f8d0a8" stroke="#a4a4a4" stroke-width="1"/><line x1="362.4" y1="564.76" x2="444.4" y2="564.76" stroke="rgba(240,148,55,0.56)" stroke-width="1"/><rect x="401.8" y="592.4" width="1.3" height="9.9" fill="#bed8b8" stroke="#a4a4a4" stroke-width="1"/><line x1="362.6" y1="597.35" x2="444.8" y2="597.35" stroke="rgba(90,165,70,0.52)" stroke-width="1"/><rect x="399.5" y="608.55" width="1.9" height="9.9" fill="#bed8b8" stroke="#a4a4a4" stroke-width="1"/><line x1="361" y1="613.5" x2="437" y2="613.5" stroke="rgba(90,165,70,0.52)" stroke-width="1"/><rect x="400.9" y="641.35" width="0.5" height="9.9" fill="#d2c5ae" stroke="#909090" stroke-width="1"/><line x1="361.4" y1="646.3" x2="439.8" y2="646.3" stroke="rgba(135,105,40,0.5)" stroke-width="1"/><text transform="translate(451.9 388.4) scale(1 1)" font-size="8.75" fill="#606060" font-style="italic">A</text><text transform="translate(451.9 404.83) scale(1 1)" font-size="8.75" fill="#606060" font-style="italic">B</text><text transform="translate(451.9 421) scale(1 1)" font-size="8.75" fill="#606060" font-style="italic">C</text><text transform="translate(451.9 436.96) scale(1 1)" font-size="8.75" fill="#606060" font-style="italic">D</text><text transform="translate(451.9 453.46) scale(1 1)" font-size="8.75" fill="#606060" font-style="italic">E</text><text transform="translate(451.9 485.76) scale(1 1)" font-size="8.75" fill="#606060" font-style="italic">A</text><text transform="translate(451.9 501.95) scale(1 1)" font-size="8.75" fill="#606060" font-style="italic">B</text><text transform="translate(451.9 518.55) scale(1 1)" font-size="8.75" fill="#606060" font-style="italic">C</text><text transform="translate(451.9 534.74) scale(1 1)" font-size="8.75" fill="#606060" font-style="italic">D</text><text transform="translate(451.9 550.93) scale(1 1)" font-size="8.75" fill="#606060" font-style="italic">E</text><text transform="translate(451.9 567.26) scale(1 1)" font-size="8.75" fill="#606060" font-style="italic">F</text><text transform="translate(451.9 599.85) scale(1 1)" font-size="8.75" fill="#606060" font-style="italic">A</text><text transform="translate(451.9 616) scale(1 1)" font-size="8.75" fill="#606060" font-style="italic">B</text><path d="M345.4 377.45 V654.05 H455.8" fill="none" stroke="#7a7a7a" stroke-width="1.3"/><text transform="translate(360.6 665.55) scale(1 1)" font-size="9.65" text-anchor="middle" fill="#111111">−50</text><text transform="translate(401.6 665.55) scale(1 1)" font-size="9.65" text-anchor="middle" fill="#111111">0</text><text transform="translate(442.6 665.55) scale(1 1)" font-size="9.65" text-anchor="middle" fill="#111111">50</text><text transform="translate(399.1 678.25) scale(1 1)" font-size="9.65" text-anchor="middle" fill="#111111">Relative</text><text transform="translate(401.6 688.75) scale(1 1)" font-size="9.65" text-anchor="middle" fill="#111111"><tspan>ΔδHeight (%)</tspan></text><text transform="translate(332.1 367.25) scale(1 1)" font-size="11" fill="#1a1a1a" font-weight="bold">g</text><line x1="503.4" y1="377.45" x2="503.4" y2="654.05" stroke="#efefef" stroke-width="1" stroke-dasharray="2.3,1.35"/><line x1="542.2" y1="377.45" x2="542.2" y2="654.05" stroke="#efefef" stroke-width="1"/><line x1="581" y1="377.45" x2="581" y2="654.05" stroke="#efefef" stroke-width="1" stroke-dasharray="2.3,1.35"/><rect x="541.7" y="380.95" width="0.8" height="9.9" fill="#b9c9de" stroke="#a4a4a4" stroke-width="1"/><line x1="498.6" y1="385.9" x2="584" y2="385.9" stroke="rgba(80,116,170,0.57)" stroke-width="1"/><rect x="540.9" y="397.38" width="1.1" height="9.9" fill="#b9c9de" stroke="#a4a4a4" stroke-width="1"/><line x1="499.6" y1="402.33" x2="581.8" y2="402.33" stroke="rgba(80,116,170,0.57)" stroke-width="1"/><rect x="541.9" y="413.55" width="0.2" height="9.9" fill="#b9c9de" stroke="#909090" stroke-width="1"/><line x1="504" y1="418.5" x2="579.8" y2="418.5" stroke="rgba(80,116,170,0.57)" stroke-width="1"/><rect x="542.1" y="429.51" width="0.2" height="9.9" fill="#b9c9de" stroke="#909090" stroke-width="1"/><line x1="501.4" y1="434.46" x2="583" y2="434.46" stroke="rgba(80,116,170,0.57)" stroke-width="1"/><rect x="542.4" y="446.01" width="2.5" height="9.9" fill="#b9c9de" stroke="#a4a4a4" stroke-width="1"/><line x1="514.6" y1="450.96" x2="575.8" y2="450.96" stroke="rgba(80,116,170,0.57)" stroke-width="1"/><rect x="542.4" y="478.31" width="1.5" height="9.9" fill="#f8d0a8" stroke="#a4a4a4" stroke-width="1"/><line x1="505" y1="483.26" x2="583" y2="483.26" stroke="rgba(240,148,55,0.56)" stroke-width="1"/><rect x="541.9" y="494.5" width="0.2" height="9.9" fill="#f8d0a8" stroke="#909090" stroke-width="1"/><line x1="505.4" y1="499.45" x2="579" y2="499.45" stroke="rgba(240,148,55,0.56)" stroke-width="1"/><rect x="542.4" y="511.1" width="1.5" height="9.9" fill="#f8d0a8" stroke="#a4a4a4" stroke-width="1"/><line x1="505" y1="516.05" x2="582.8" y2="516.05" stroke="rgba(240,148,55,0.56)" stroke-width="1"/><rect x="539.7" y="527.29" width="2.3" height="9.9" fill="#f8d0a8" stroke="#a4a4a4" stroke-width="1"/><line x1="496" y1="532.24" x2="582.8" y2="532.24" stroke="rgba(240,148,55,0.56)" stroke-width="1"/><rect x="539.7" y="543.48" width="2.3" height="9.9" fill="#f8d0a8" stroke="#a4a4a4" stroke-width="1"/><line x1="494" y1="548.43" x2="584.8" y2="548.43" stroke="rgba(240,148,55,0.56)" stroke-width="1"/><rect x="540.1" y="559.81" width="1.9" height="9.9" fill="#f8d0a8" stroke="#a4a4a4" stroke-width="1"/><line x1="503" y1="564.76" x2="577.2" y2="564.76" stroke="rgba(240,148,55,0.56)" stroke-width="1"/><rect x="541.9" y="592.4" width="0.2" height="9.9" fill="#bed8b8" stroke="#909090" stroke-width="1"/><line x1="502.4" y1="597.35" x2="581.4" y2="597.35" stroke="rgba(90,165,70,0.52)" stroke-width="1"/><rect x="541.9" y="608.55" width="0.2" height="9.9" fill="#bed8b8" stroke="#909090" stroke-width="1"/><line x1="500" y1="613.5" x2="583.4" y2="613.5" stroke="rgba(90,165,70,0.52)" stroke-width="1"/><rect x="541.5" y="641.35" width="0.2" height="9.9" fill="#d2c5ae" stroke="#909090" stroke-width="1"/><line x1="500.6" y1="646.3" x2="583" y2="646.3" stroke="rgba(135,105,40,0.5)" stroke-width="1"/><text transform="translate(591 388.4) scale(1 1)" font-size="8.75" fill="#606060" font-style="italic">A</text><text transform="translate(591 404.83) scale(1 1)" font-size="8.75" fill="#606060" font-style="italic">B</text><text transform="translate(591 421) scale(1 1)" font-size="8.75" fill="#606060" font-style="italic">C</text><text transform="translate(591 436.96) scale(1 1)" font-size="8.75" fill="#606060" font-style="italic">D</text><text transform="translate(591 453.46) scale(1 1)" font-size="8.75" fill="#606060" font-style="italic">E</text><text transform="translate(591 485.76) scale(1 1)" font-size="8.75" fill="#606060" font-style="italic">A</text><text transform="translate(591 501.95) scale(1 1)" font-size="8.75" fill="#606060" font-style="italic">B</text><text transform="translate(591 518.55) scale(1 1)" font-size="8.75" fill="#606060" font-style="italic">C</text><text transform="translate(591 534.74) scale(1 1)" font-size="8.75" fill="#606060" font-style="italic">D</text><text transform="translate(591 550.93) scale(1 1)" font-size="8.75" fill="#606060" font-style="italic">E</text><text transform="translate(591 567.26) scale(1 1)" font-size="8.75" fill="#606060" font-style="italic">F</text><text transform="translate(591 599.85) scale(1 1)" font-size="8.75" fill="#606060" font-style="italic">A</text><text transform="translate(591 616) scale(1 1)" font-size="8.75" fill="#606060" font-style="italic">B</text><text transform="translate(539 436.76) scale(1 1)" font-size="9.6" text-anchor="end" fill="#111111" font-style="italic">ns</text><text transform="translate(539 501.75) scale(1 1)" font-size="9.6" text-anchor="end" fill="#111111" font-style="italic">ns</text><path d="M484.5 377.45 V654.05 H594.9" fill="none" stroke="#7a7a7a" stroke-width="1.3"/><text transform="translate(503.4 665.55) scale(1 1)" font-size="9.65" text-anchor="middle" fill="#111111">−50</text><text transform="translate(542.2 665.55) scale(1 1)" font-size="9.65" text-anchor="middle" fill="#111111">0</text><text transform="translate(581 665.55) scale(1 1)" font-size="9.65" text-anchor="middle" fill="#111111">50</text><text transform="translate(538.2 678.25) scale(1 1)" font-size="9.65" text-anchor="middle" fill="#111111">Relative</text><text transform="translate(540.7 688.75) scale(1 1)" font-size="9.65" text-anchor="middle" fill="#111111"><tspan>ΔδNPP (%)</tspan></text><text transform="translate(471.2 367.25) scale(1 1)" font-size="11" fill="#1a1a1a" font-weight="bold">h</text><text transform="translate(623.8 12) scale(1 1)" font-size="9.8" fill="#111111" font-weight="bold">Sample size</text><text transform="translate(623.6 28.9) scale(1 1)" font-size="9.65" fill="#3c3c3c">7036071</text><text transform="translate(623.6 45.05) scale(1 1)" font-size="9.65" fill="#3c3c3c">1225188</text><text transform="translate(623.6 61.4) scale(1 1)" font-size="9.65" fill="#3c3c3c">3426452</text><text transform="translate(623.6 77.8) scale(1 1)" font-size="9.65" fill="#3c3c3c">4662413</text><text transform="translate(623.6 94) scale(1 1)" font-size="9.65" fill="#3c3c3c">97464</text><text transform="translate(623.6 126.5) scale(1 1)" font-size="9.65" fill="#3c3c3c">5197963</text><text transform="translate(623.6 142.7) scale(1 1)" font-size="9.65" fill="#3c3c3c">2426587</text><text transform="translate(623.6 159) scale(1 1)" font-size="9.65" fill="#3c3c3c">1464423</text><text transform="translate(623.6 175.2) scale(1 1)" font-size="9.65" fill="#3c3c3c">3442343</text><text transform="translate(623.6 191.5) scale(1 1)" font-size="9.65" fill="#3c3c3c">3156263</text><text transform="translate(623.6 207.7) scale(1 1)" font-size="9.65" fill="#3c3c3c">764861</text><text transform="translate(623.6 240.4) scale(1 1)" font-size="9.65" fill="#3c3c3c">5567413</text><text transform="translate(623.6 256.7) scale(1 1)" font-size="9.65" fill="#3c3c3c">10883858</text><text transform="translate(623.6 289) scale(1 1)" font-size="9.65" fill="#3c3c3c">16459938</text><line x1="605.5" y1="460.9" x2="625.2" y2="460.9" stroke="#b9c9de" stroke-width="5.8" stroke-linecap="round"/><text transform="translate(629.6 458.9) scale(1 1)" font-size="9.65" fill="#111111">Climate</text><text transform="translate(629.6 468.9) scale(1 1)" font-size="9.65" fill="#111111">zone</text><line x1="605.5" y1="481.8" x2="625.2" y2="481.8" stroke="#f8d0a8" stroke-width="5.8" stroke-linecap="round"/><text transform="translate(629.6 485.4) scale(1 1)" font-size="9.65" fill="#111111">Continent</text><line x1="605.5" y1="504.5" x2="625.2" y2="504.5" stroke="#bed8b8" stroke-width="5.8" stroke-linecap="round"/><text transform="translate(629.6 502.3) scale(1 1)" font-size="9.65" fill="#111111">Global North</text><text transform="translate(629.6 512.3) scale(1 1)" font-size="9.65" fill="#111111">Global South</text><line x1="605.5" y1="525.3" x2="625.2" y2="525.3" stroke="#d2c5ae" stroke-width="5.8" stroke-linecap="round"/><text transform="translate(629.6 528.7) scale(1 1)" font-size="9.65" fill="#111111">Global mean</text><rect x="605.5" y="555.3" width="19.8" height="6.8" fill="#d0d0d0" stroke="#9a9a9a" stroke-width="1"/><text transform="translate(629.6 561.95) scale(1 1)" font-size="9.65" fill="#111111">Mean (bar)</text><line x1="605" y1="575.3" x2="625.2" y2="575.3" stroke="#7d9cc9" stroke-width="1"/><text transform="translate(629.6 578.95) scale(1 1)" font-size="9.65" fill="#111111">SD error bar</text></svg></body></html>
